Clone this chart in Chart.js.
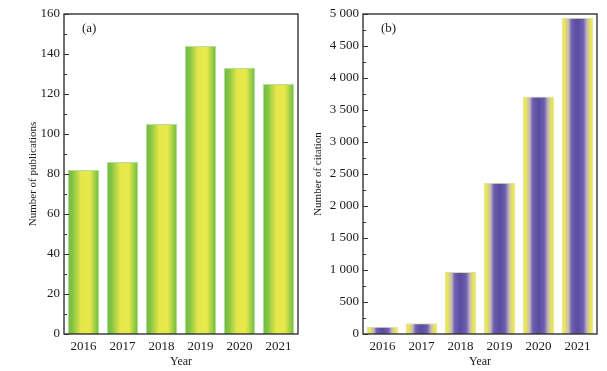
<!DOCTYPE html>
<html>
<head>
<meta charset="utf-8">
<script src="https://cdn.jsdelivr.net/npm/chart.js@4.4.0/dist/chart.umd.min.js"></script>
<style>
  html, body { margin: 0; padding: 0; background: #fff; }
  #wrap { position: relative; width: 607px; height: 371px; }
  canvas { position: absolute; top: 0; }
</style>
</head>
<body>
<div id="wrap">
  <canvas id="chartA" width="303" height="371" style="left:0"></canvas>
  <canvas id="chartB" width="304" height="371" style="left:303px"></canvas>
</div>
<script>
// chart values
const years = ["2016", "2017", "2018", "2019", "2020", "2021"];
const publications = [82, 86, 105, 144, 133, 125];
const citations = [115, 167, 970, 2365, 3712, 4942];

const SERIF = "'Liberation Serif', 'DejaVu Serif', serif";
const BAR_PCT = 0.81;

// green edges, yellow middle
const greenStops = [
    [0, "#6cbb40"], [0.15, "#82c543"], [0.42, "#e4e64a"],
    [0.7, "#e8e84a"], [0.9, "#8fc944"], [1, "#6cbb40"]
];
// yellow edges, purple middle
const purpleStops = [
    [0, "#ecea4c"], [0.1, "#e8e55a"], [0.22, "#c4b9bc"], [0.32, "#6c5eb0"],
    [0.5, "#5a4ba0"], [0.68, "#6c5eb0"], [0.8, "#c4b9bc"], [0.9, "#e6e35a"], [1, "#ecea4c"]
];

// horizontal gradient across each bar, built from the x scale
function barGradient(ctx, stops) {
    const chart = ctx.chart;
    const xs = chart.scales.x;
    if (!xs || ctx.dataIndex === undefined) return stops[0][1];
    const center = xs.getPixelForValue(ctx.dataIndex);
    const half = (xs.width / chart.data.labels.length) * BAR_PCT / 2;
    if (!isFinite(center) || !isFinite(half) || half <= 0) return stops[0][1];
    const g = chart.ctx.createLinearGradient(center - half, 0, center + half, 0);
    stops.forEach((s) => g.addColorStop(s[0], s[1]));
    return g;
}

// frame box, inward ticks and the panel letter
const framePlugin = {
    id: "frame",
    afterDraw(chart, args, opts) {
        const c = chart.ctx;
        const a = chart.chartArea;
        const ys = chart.scales.y;
        c.save();
        c.strokeStyle = "#333";
        c.lineWidth = 1;
        const ticks = ys.ticks.map((t) => t.value);
        ticks.forEach((v, i) => {
            const y = Math.round(ys.getPixelForValue(v)) + 0.5;
            c.beginPath();
            c.moveTo(a.left, y);
            c.lineTo(a.left + 5, y);
            c.stroke();
            if (i < ticks.length - 1) {
                const ym = Math.round(ys.getPixelForValue((v + ticks[i + 1]) / 2)) + 0.5;
                c.beginPath();
                c.moveTo(a.left, ym);
                c.lineTo(a.left + 3, ym);
                c.stroke();
            }
        });
        c.lineWidth = 1.4;
        c.strokeRect(a.left, a.top, a.right - a.left, a.bottom - a.top);
        c.fillStyle = "#1a1a1a";
        c.font = "13px " + SERIF;
        c.textBaseline = "middle";
        c.fillText(opts.letter, a.left + 18, a.top + 15);
        c.restore();
    }
};

function makeChart(id, values, stops, border, yMax, yStep, yTitle, pad, titlePad, fmt) {
    return new Chart(document.getElementById(id), {
        type: "bar",
        data: {
            labels: years,
            datasets: [{
                data: values,
                backgroundColor: (ctx) => barGradient(ctx, stops),
                borderColor: border,
                borderWidth: 1,
                barPercentage: BAR_PCT,
                categoryPercentage: 1
            }]
        },
        options: {
            responsive: false,
            animation: false,
            devicePixelRatio: 1,
            layout: { padding: { left: pad.left, right: pad.right, top: pad.top, bottom: pad.bottom } },
            plugins: {
                legend: { display: false },
                tooltip: { enabled: false },
                frame: { letter: pad.letter }
            },
            scales: {
                x: {
                    grid: { display: false, drawTicks: false },
                    border: { display: false },
                    ticks: { color: "#1a1a1a", padding: 5, font: { family: SERIF, size: 13 } },
                    title: {
                        display: true, text: "Year", color: "#1a1a1a",
                        padding: { top: 0, bottom: 2 },
                        font: { family: SERIF, size: 12 }
                    },
                    afterFit: (s) => { s.height = 37; }
                },
                y: {
                    min: 0,
                    max: yMax,
                    grid: { display: false, drawTicks: false },
                    border: { display: false },
                    ticks: {
                        stepSize: yStep, color: "#1a1a1a", padding: 4,
                        font: { family: SERIF, size: 13 },
                        callback: fmt
                    },
                    title: {
                        display: true, text: yTitle, color: "#1a1a1a",
                        padding: { top: titlePad, bottom: 0 },
                        font: { family: SERIF, size: 11 }
                    },
                    afterFit: (s) => { s.width = pad.axisW; }
                }
            }
        },
        plugins: [framePlugin]
    });
}

// thousands with a space, as in the figure
function spaced(v) {
    if (v < 1000) return String(v);
    return Math.floor(v / 1000) + " " + String(v % 1000).padStart(3, "0");
}

makeChart("chartA", publications, greenStops, "#b6dfa0", 160, 20,
    "Number of publications",
    { left: 0, right: 5, top: 14, bottom: 0, axisW: 64, letter: "(a)" }, 27,
    (v) => String(v));

makeChart("chartB", citations, purpleStops, "#dcdca8", 5000, 500,
    "Number of citation",
    { left: 0, right: 10, top: 14, bottom: 0, axisW: 60, letter: "(b)" }, 9,
    spaced);
</script>
</body>
</html>
